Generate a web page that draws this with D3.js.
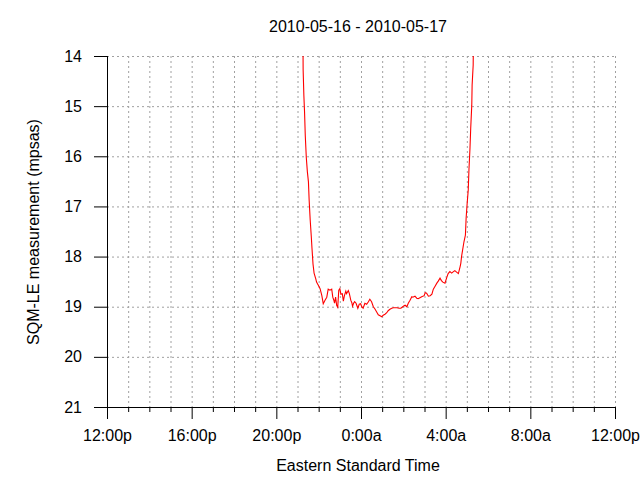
<!DOCTYPE html>
<html><head><meta charset="utf-8">
<script src="https://cdn.jsdelivr.net/npm/d3@7"></script>
<style>
body{margin:0;background:#fff;}
svg{display:block;font-family:"Liberation Sans",Arial,sans-serif;}
</style></head><body>
<svg id="c" width="640" height="480"></svg>
<script>
const titleText = "2010-05-16 - 2010-05-17";
const xTitle = "Eastern Standard Time";
const yTitle = "SQM-LE measurement (mpsas)";
const xTickLabels = ["12:00p","16:00p","20:00p","0:00a","4:00a","8:00a","12:00p"];
const yTickValues = [14,15,16,17,18,19,20,21];
const times = ["21:14","21:16","21:18","21:20","21:22","21:25","21:28","21:31","21:33","21:36","21:39","21:41","21:44","21:47","21:52","21:54","21:59","22:04","22:09","22:13","22:18","22:23","22:27","22:32","22:37","22:40","22:43","22:45","22:48","22:51","22:54","22:57","23:00","23:03","23:07","23:10","23:13","23:17","23:19","23:24","23:27","23:31","23:34","23:36","23:39","23:42","23:46","23:49","23:51","23:55","23:59","00:02","00:06","00:11","00:16","00:21","00:25","00:30","00:35","00:40","00:44","00:49","00:54","00:59","01:03","01:08","01:13","01:17","01:22","01:27","01:32","01:36","01:42","01:48","01:53","02:00","02:05","02:10","02:14","02:19","02:24","02:27","02:33","02:38","02:42","02:47","02:52","02:59","03:02","03:06","03:11","03:16","03:21","03:25","03:30","03:35","03:39","03:44","03:48","03:52","03:58","04:03","04:07","04:12","04:17","04:22","04:26","04:31","04:36","04:41","04:43","04:45","04:48","04:52","04:56","04:58","05:01","05:04","05:06","05:09","05:11","05:14","05:15","05:18","05:19","05:21"];
const values = [12.0,14.28,14.78,15.12,15.58,16.03,16.31,16.51,16.87,17.27,17.59,17.83,18.15,18.33,18.45,18.51,18.57,18.64,18.78,18.94,18.87,18.81,18.65,18.67,18.65,18.81,18.87,18.93,18.81,18.97,19.01,18.67,18.64,18.75,18.74,18.89,18.78,18.69,18.74,18.68,18.74,18.87,18.92,18.99,18.93,18.90,18.93,18.99,19.03,18.95,18.94,19.00,19.03,18.93,18.95,18.90,18.85,18.90,19.00,19.05,19.10,19.16,19.18,19.20,19.17,19.15,19.12,19.08,19.05,19.03,19.02,19.02,19.02,19.03,19.03,18.99,18.97,19.00,18.93,18.87,18.80,18.81,18.79,18.83,18.84,18.82,18.80,18.78,18.72,18.73,18.79,18.78,18.75,18.65,18.59,18.53,18.49,18.43,18.48,18.51,18.53,18.42,18.34,18.30,18.33,18.30,18.28,18.31,18.34,18.20,18.13,18.00,17.87,17.70,17.57,17.23,16.93,16.67,16.27,15.83,15.44,14.98,14.58,14.18,13.3,12.0];

function toDate(t){
  const [h,m] = t.split(":").map(Number);
  return h >= 12 ? new Date(2010,4,16,h,m) : new Date(2010,4,17,h,m);
}
const data = times.map((t,i)=>({t:toDate(t), v:values[i]}));

const svg = d3.select("#c");
const L=107, R=615, T=56, B=407;
const x = d3.scaleTime().domain([new Date(2010,4,16,12,0), new Date(2010,4,17,12,0)]).range([L,R]);
const y = d3.scaleLinear().domain([14,21]).range([T,B]);

const hourTicks = d3.timeHour.every(1).range(new Date(2010,4,16,12,0), new Date(2010,4,17,12,1));
const majorTicks = d3.timeHour.every(4).range(new Date(2010,4,16,12,0), new Date(2010,4,17,12,1));

// grid
const g = svg.append("g");
g.selectAll("line.vg").data(hourTicks.slice(1)).enter().append("line")
  .attr("x1",d=>x(d)).attr("x2",d=>x(d)).attr("y1",T).attr("y2",B)
  .attr("stroke","#a0a0a0").attr("stroke-width",1).attr("stroke-dasharray","2,3").attr("transform","translate(0.5,0)");
g.selectAll("line.hg").data(yTickValues.slice(0,-1)).enter().append("line")
  .attr("x1",L).attr("x2",R).attr("y1",d=>y(d)).attr("y2",d=>y(d))
  .attr("stroke","#a0a0a0").attr("stroke-width",1).attr("stroke-dasharray","2,3").attr("transform","translate(0,0.5)");

// data line
svg.append("clipPath").attr("id","clip").append("rect").attr("x",L).attr("y",T).attr("width",R-L).attr("height",B-T);
const line = d3.line().x(d=>x(d.t)).y(d=>y(d.v));
svg.append("path").datum(data).attr("d",line).attr("fill","none").attr("stroke","#ff0000").attr("stroke-width",1.1).attr("clip-path","url(#clip)");

// x axis
const xAxis = d3.axisBottom(x).tickValues(majorTicks).tickSize(12).tickPadding(11)
  .tickFormat((d,i)=>xTickLabels[i]);
const xa = svg.append("g").attr("transform",`translate(0,${B})`).call(xAxis);
const xMinor = d3.axisBottom(x).tickValues(hourTicks.filter(h=>h.getHours()%4!==0)).tickSize(5).tickFormat("");
const xm = svg.append("g").attr("transform",`translate(0,${B})`).call(xMinor);
xm.select(".domain").remove();

// y axis
const yAxis = d3.axisLeft(y).tickValues(yTickValues).tickSize(13).tickPadding(12).tickFormat(d3.format("d"));
const ya = svg.append("g").attr("transform",`translate(${L},0)`).call(yAxis);

[xa,ya,xm].forEach(a=>{
  a.selectAll("path,line").attr("stroke","#000");
  a.selectAll("text").attr("font-size",16).attr("fill","#000").attr("font-family","Liberation Sans, Arial, sans-serif");
});
xa.select(".domain").attr("d",`M${L},0.5H${R}`);
ya.select(".domain").attr("d",`M0.5,${T}V${B}`);

svg.append("text").attr("x",358).attr("y",32).attr("text-anchor","middle").attr("font-size",16).text(titleText);
svg.append("text").attr("x",358).attr("y",471).attr("text-anchor","middle").attr("font-size",16).text(xTitle);
svg.append("text").attr("transform","translate(39,232) rotate(-90)").attr("text-anchor","middle").attr("font-size",16).text(yTitle);
</script>
</body></html>
